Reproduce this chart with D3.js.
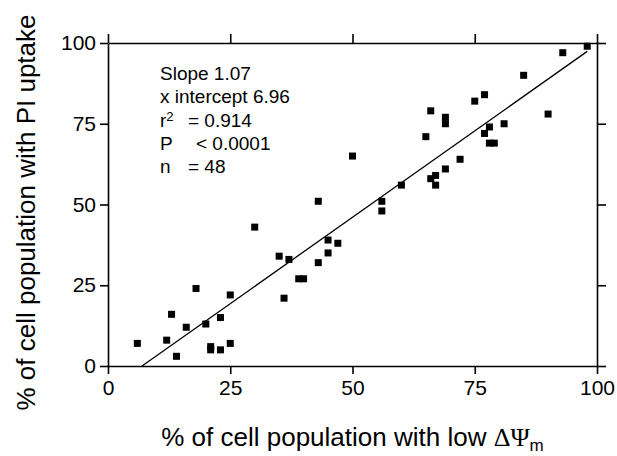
<!DOCTYPE html>
<html>
<head>
<meta charset="utf-8">
<script src="https://cdn.jsdelivr.net/npm/d3@7"></script>
<style>
  body { margin: 0; background: #fff; }
  svg { font-family: "Liberation Sans", Arial, sans-serif; }
  .axis path, .axis line { stroke: #000; stroke-width: 1.6; }
  .axis text { font-size: 21px; fill: #000; }
</style>
</head>
<body>
<svg id="chart" width="617" height="456"></svg>
<script>
// % of cells with low membrane potential vs % with PI uptake (one entry per sample)
const lowPotential = [6, 12, 13, 14, 16, 18, 20, 21, 21, 23, 23, 25, 25, 30, 35, 36, 37, 39, 40, 43, 43, 45, 45, 47,
  50, 56, 56, 60, 65, 66, 66, 67, 67, 69, 69, 69, 72, 75, 77, 77, 78, 78, 79, 81, 85, 90, 93, 98];
const piUptake = [7, 8, 16, 3, 12, 24, 13, 6, 5, 15, 5, 22, 7, 43, 34, 21, 33, 27, 27, 32, 51, 39, 35, 38,
  65, 51, 48, 56, 71, 79, 58, 59, 56, 77, 75, 61, 64, 82, 84, 72, 74, 69, 69, 75, 90, 78, 97, 99];
const tickValues = [0, 25, 50, 75, 100];
const slope = 1.07;
const xIntercept = 6.96;
const statLabels = ["Slope 1.07", "x intercept 6.96", "r", "P", "n"];
const statValues = ["", "", "= 0.914", "< 0.0001", "= 48"];

const width = 617, height = 456;
const margin = { top: 43, right: 20, bottom: 90, left: 108 };

const svg = d3.select("#chart");

let x = d3.scaleLinear().domain([0, 100]).range([margin.left, width - margin.right]);
let y = d3.scaleLinear().domain([0, 100]).range([height - margin.bottom, margin.top]);

let points = lowPotential.map((v, i) => ({ x: v, y: piUptake[i] }));

// frame: all four sides, ticks pointing out, labels only bottom and left
svg.append("g").attr("class", "axis")
  .attr("transform", `translate(0,${y(0)})`)
  .call(d3.axisBottom(x).tickValues(tickValues).tickSize(8).tickSizeOuter(0).tickPadding(6));
svg.append("g").attr("class", "axis")
  .attr("transform", `translate(${x(0)},0)`)
  .call(d3.axisLeft(y).tickValues(tickValues).tickSize(8).tickSizeOuter(0).tickPadding(4));
svg.append("g").attr("class", "axis")
  .attr("transform", `translate(0,${y(100)})`)
  .call(d3.axisTop(x).tickValues(tickValues).tickSize(9).tickSizeOuter(0).tickFormat(""));
svg.append("g").attr("class", "axis")
  .attr("transform", `translate(${x(100)},0)`)
  .call(d3.axisRight(y).tickValues(tickValues).tickSize(9).tickSizeOuter(0).tickFormat(""));

// fitted line
let xEnd = d3.max(lowPotential);
svg.append("line")
  .attr("x1", x(xIntercept)).attr("y1", y(0))
  .attr("x2", x(xEnd)).attr("y2", y(slope * (xEnd - xIntercept)))
  .attr("stroke", "#000").attr("stroke-width", 1.3);

// markers
let s = 7;
svg.append("g").selectAll("rect").data(points).join("rect")
  .attr("x", d => x(d.x) - s / 2)
  .attr("y", d => y(d.y) - s / 2)
  .attr("width", s).attr("height", s)
  .attr("fill", "#000");

// stats box
let stats = svg.append("g").attr("font-size", 19).attr("fill", "#000");
statLabels.forEach((label, i) => {
  let t = stats.append("text").attr("x", 160).attr("y", 80 + i * 23.3);
  t.append("tspan").text(label);
  if (label === "r") t.append("tspan").attr("font-size", 13).attr("dy", -6).text("2");
  if (statValues[i]) {
    t.append("tspan").attr("x", label === "P" ? 196 : 188).attr("dy", label === "r" ? 6 : 0).text(statValues[i]);
  }
});

// axis titles
let xt = svg.append("text")
  .attr("x", (x(0) + x(100)) / 2).attr("y", 446)
  .attr("text-anchor", "middle").attr("font-size", 26);
xt.append("tspan").text("% of cell population with low ");
xt.append("tspan").attr("font-family", "Liberation Serif, serif").text("ΔΨ");
xt.append("tspan").attr("font-size", 17).attr("dy", 5).text("m");

svg.append("text")
  .attr("transform", `translate(35,${(y(0) + y(100)) / 2 + 8}) rotate(-90)`)
  .attr("text-anchor", "middle").attr("font-size", 26)
  .text("% of cell population with PI uptake");
</script>
</body>
</html>
